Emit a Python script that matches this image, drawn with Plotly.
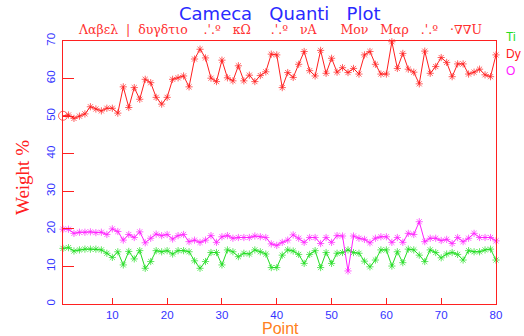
import plotly.graph_objects as go

points = list(range(1, 81))

dy = [50.1, 50.3, 49.4, 50.0, 50.6, 52.5, 51.9, 51.4, 52.1, 52.1,
      50.8, 57.8, 52.3, 57.6, 54.5, 59.8, 58.9, 55.0, 53.2, 55.0,
      59.8, 60.2, 60.7, 57.8, 65.2, 67.8, 65.5, 60.1, 59.2, 64.9,
      60.2, 59.4, 63.4, 59.4, 60.9, 59.2, 60.8, 61.8, 66.5, 66.3,
      57.6, 61.6, 60.3, 63.8, 67.2, 62.1, 60.7, 67.5, 61.4, 65.4,
      61.7, 62.9, 61.6, 62.7, 61.2, 66.3, 67.2, 63.8, 61.2, 61.2,
      69.8, 62.7, 66.7, 62.5, 61.7, 58.6, 67.3, 61.4, 63.2, 65.6,
      64.3, 60.5, 63.9, 63.9, 61.2, 61.7, 62.5, 61.0, 60.5, 66.3]

ti = [14.8, 15.0, 14.1, 14.4, 14.6, 14.6, 14.6, 14.4, 13.5, 12.4,
      13.9, 10.4, 14.0, 12.0, 14.2, 9.5, 11.3, 14.2, 13.9, 14.2,
      13.3, 14.2, 14.2, 13.9, 11.5, 9.5, 11.3, 13.7, 13.7, 10.4,
      14.4, 13.9, 12.6, 13.5, 13.3, 14.4, 13.9, 13.3, 9.7, 9.7,
      13.0, 14.4, 14.1, 13.2, 10.8, 13.2, 14.2, 9.7, 13.7, 10.8,
      13.5, 13.7, 14.4, 13.7, 13.5, 11.4, 9.9, 11.7, 14.4, 14.4,
      10.1, 13.9, 11.0, 14.6, 14.4, 13.0, 11.3, 14.4, 13.7, 12.3,
      13.3, 13.7, 13.2, 11.7, 14.2, 13.9, 13.9, 14.4, 14.6, 11.7]

o = [19.9, 19.9, 18.8, 19.1, 19.1, 19.2, 19.0, 19.1, 18.5, 20.0,
     19.3, 17.0, 18.5, 17.7, 19.2, 16.3, 17.5, 18.6, 18.2, 18.5,
     17.3, 18.2, 18.5, 16.6, 17.0, 16.4, 17.0, 18.2, 16.4, 17.9,
     18.2, 17.5, 17.7, 17.7, 17.7, 18.1, 17.9, 17.7, 16.0, 15.6,
     16.4, 17.0, 18.4, 17.5, 16.4, 17.7, 17.7, 16.1, 17.7, 16.4,
     18.2, 18.1, 8.8, 18.1, 17.5, 17.2, 16.3, 17.5, 17.9, 17.9,
     16.4, 17.7, 16.4, 18.8, 18.5, 21.9, 16.6, 17.5, 17.5, 16.9,
     17.2, 16.1, 17.7, 16.6, 17.5, 18.8, 17.7, 17.7, 17.7, 16.8]

y_ticks = [0, 10, 20, 30, 40, 50, 60, 70]
x_ticks = [10, 20, 30, 40, 50, 60, 70, 80]
legend_names = ["Ti", "Dy", "O"]
legend_colors = ["#22dd22", "#ff2020", "#ff22ff"]

title_text = "Cameca   Quanti   Plot"
subtitle_text = "Λαβελ  |  δυγδτιο    .'.º   κΩ     .'.º   νA      Mον   Mαρ   .'.º   ·∇∇U"

fig = go.Figure()

def add_series(y, color, first_symbol=None):
    symbols = ["asterisk-open"] * len(y)
    sizes = [6] * len(y)
    if first_symbol:
        symbols[0] = first_symbol
        sizes[0] = 9
    fig.add_trace(go.Scatter(
        x=points, y=y, mode="lines+markers",
        line=dict(color=color, width=1),
        marker=dict(symbol=symbols, size=sizes, color=color,
                    line=dict(color=color, width=1)),
        cliponaxis=False, showlegend=False, hoverinfo="skip"))

add_series(ti, legend_colors[0])
add_series(o, legend_colors[2])
add_series(dy, legend_colors[1], first_symbol="circle-open")

axis_red = "#ff2020"
tick_blue = "#3333ff"

fig.update_layout(
    width=524, height=336,
    margin=dict(l=63, r=28, t=41, b=32),
    paper_bgcolor="white", plot_bgcolor="white",
    font=dict(family="Liberation Sans, Arial, sans-serif"),
    xaxis=dict(range=[1, 80], tickvals=x_ticks,
               ticktext=[str(v) for v in x_ticks],
               ticks="inside", ticklen=6, tickcolor=axis_red, tickwidth=1,
               showline=True, linecolor=axis_red, linewidth=1, mirror=True,
               showgrid=False, zeroline=False, ticklabelstandoff=0,
               tickfont=dict(color=tick_blue, size=11.5)),
    yaxis=dict(range=[0, 70], tickvals=y_ticks,
               ticktext=[str(v) for v in y_ticks],
               ticks="inside", ticklen=11, tickcolor=axis_red, tickwidth=1,
               showline=True, linecolor=axis_red, linewidth=1, mirror=True,
               showgrid=False, zeroline=False, tickangle=-90,
               ticklabelstandoff=2,
               tickfont=dict(color=tick_blue, size=11.5)),
)

annotations = [
    dict(text=title_text, x=0.5, xref="paper", xanchor="center",
         y=14, yref="paper", yanchor="middle",
         font=dict(color="#2a2aff", size=18, family="DejaVu Sans, sans-serif")),
    dict(text=subtitle_text, x=0.5, xref="paper", xanchor="center",
         y=30, yref="paper", yanchor="middle",
         font=dict(color="#ff3030", size=12.5, family="DejaVu Serif, serif")),
    dict(text="Weight %", x=22, y=178, textangle=-90,
         font=dict(color="#ff2020", size=19, family="Liberation Serif, serif")),
    dict(text="Point", x=280, y=328.5,
         font=dict(color="#ff8020", size=16, family="Liberation Sans, Arial, sans-serif")),
]
for name, color, yy in zip(legend_names, legend_colors, [37, 54, 71]):
    annotations.append(dict(text=name, x=505, y=yy, xanchor="left",
                            font=dict(color=color, size=12,
                                      family="Liberation Sans, Arial, sans-serif")))

# convert pixel positions to paper coordinates
W, H = 524, 336
L, R, T, B = 63, 28, 41, 32
pw, ph = W - L - R, H - T - B
for a in annotations:
    if a.get("xref") != "paper" or a["x"] != 0.5:
        a["x"] = (a["x"] - L) / pw
    a["y"] = (H - B - a["y"]) / ph
    a["xref"] = "paper"
    a["yref"] = "paper"
    a["showarrow"] = False
    a["borderpad"] = 0
    a.setdefault("yanchor", "middle")
    a.setdefault("xanchor", "center")

fig.update_layout(annotations=annotations)

fig.write_html("out.html", config={"displayModeBar": False},
               post_script="document.body.style.margin='0';")
